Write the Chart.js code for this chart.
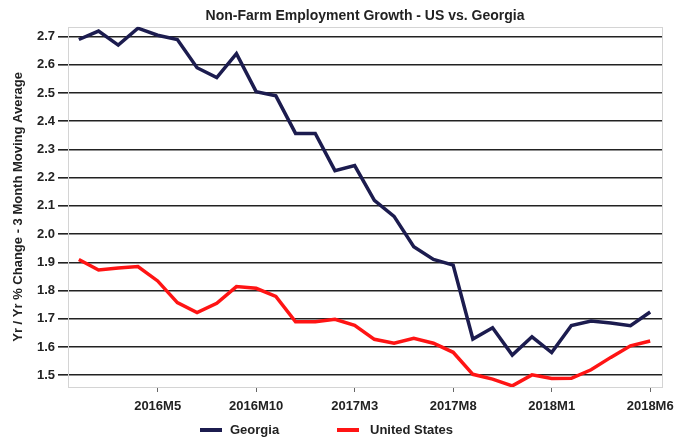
<!DOCTYPE html>
<html>
<head>
<meta charset="utf-8">
<script src="https://cdn.jsdelivr.net/npm/chart.js@4/dist/chart.umd.min.js"></script>
<style>
  html, body { margin: 0; padding: 0; background: #ffffff; }
  #wrap { position: relative; width: 687px; height: 439px; overflow: hidden; background: #fff; }
  #c { position: absolute; left: 0; top: 0; }
  .lg { position: absolute; font: bold 13px 'Liberation Sans', Arial, sans-serif; color: #222; line-height: 16px; top: 422px; white-space: nowrap; }
  .sw { position: absolute; height: 4px; top: 428px; width: 22px; }
</style>
</head>
<body>
<div id="wrap">
  <canvas id="c" width="687" height="439"></canvas>
  <div class="sw" style="left:200px;background:#1c1c4f"></div>
  <div class="lg" style="left:230px">Georgia</div>
  <div class="sw" style="left:337px;background:#ff1414"></div>
  <div class="lg" style="left:370px">United States</div>
</div>
<script>
const categories = ['2016M1','2016M2','2016M3','2016M4','2016M5','2016M6','2016M7','2016M8','2016M9','2016M10','2016M11','2016M12',
  '2017M1','2017M2','2017M3','2017M4','2017M5','2017M6','2017M7','2017M8','2017M9','2017M10','2017M11','2017M12',
  '2018M1','2018M2','2018M3','2018M4','2018M5','2018M6'];
const tickLabels = ['2016M5','2016M10','2017M3','2017M8','2018M1','2018M6'];
const georgia = [2.69, 2.72, 2.67, 2.73, 2.705, 2.69, 2.59, 2.555, 2.64, 2.505, 2.49, 2.357, 2.357, 2.225, 2.243, 2.12,
  2.063, 1.955, 1.91, 1.89, 1.628, 1.668, 1.571, 1.636, 1.58, 1.676, 1.692, 1.685, 1.675, 1.724];
const unitedStates = [1.91, 1.873, 1.88, 1.885, 1.834, 1.757, 1.722, 1.755, 1.814, 1.808, 1.779, 1.689, 1.689, 1.698, 1.677, 1.627,
  1.613, 1.631, 1.613, 1.581, 1.503, 1.486, 1.462, 1.501, 1.488, 1.489, 1.519, 1.563, 1.604, 1.621];

const FONT = "'Liberation Sans', Arial, sans-serif";
Chart.defaults.font.family = FONT;
Chart.defaults.color = '#222';

const frame = {
  id: 'frame',
  beforeDatasetsDraw(chart) {
    const a = chart.chartArea, ctx = chart.ctx;
    ctx.save();
    ctx.strokeStyle = '#d4d4d4';
    ctx.lineWidth = 1;
    ctx.strokeRect(Math.round(a.left) + 0.5, Math.round(a.top) + 0.5, Math.round(a.right - a.left), Math.round(a.bottom - a.top));
    ctx.restore();
  }
};

new Chart(document.getElementById('c'), {
  type: 'line',
  data: {
    datasets: [
      { label: 'Georgia', data: georgia.map((v, i) => ({ x: i, y: v })), borderColor: '#1c1c4f', borderWidth: 3.5, pointRadius: 0, tension: 0 },
      { label: 'United States', data: unitedStates.map((v, i) => ({ x: i, y: v })), borderColor: '#ff1414', borderWidth: 3.5, pointRadius: 0, tension: 0 }
    ]
  },
  options: {
    responsive: false,
    animation: false,
    devicePixelRatio: 1,
    layout: { padding: { top: 0, left: 0, right: 25, bottom: 25 } },
    plugins: {
      legend: { display: false },
      tooltip: { enabled: false },
      title: {
        display: true,
        text: 'Non-Farm Employment Growth - US vs. Georgia',
        fullSize: false,
        color: '#222',
        font: { size: 14, weight: 'bold' },
        padding: { top: 8, bottom: 2 }
      }
    },
    scales: {
      x: {
        type: 'linear',
        min: -0.55,
        max: 29.6,
        afterFit(s) { s.height = 27; },
        afterBuildTicks(s) { s.ticks = tickLabels.map(l => ({ value: categories.indexOf(l) })); },
        grid: { drawOnChartArea: false, drawTicks: true, tickLength: 5, tickColor: '#666', lineWidth: 1 },
        border: { display: false },
        ticks: {
          autoSkip: false, maxRotation: 0, padding: 7,
          color: '#222', font: { size: 13, weight: 'bold' },
          callback: v => categories[v]
        }
      },
      y: {
        min: 1.458,
        max: 2.735,
        afterFit(s) { s.width = 68; },
        grid: { color: '#222', lineWidth: 1.6, tickLength: 10 },
        border: { display: false },
        ticks: {
          stepSize: 0.1, includeBounds: false, padding: 3,
          color: '#222', font: { size: 13, weight: 'bold' },
          callback: v => Number(v).toFixed(1)
        },
        title: {
          display: true,
          text: 'Yr / Yr % Change - 3 Month Moving Average',
          color: '#222',
          font: { size: 13, weight: 'bold' },
          padding: { top: 11, bottom: 0 }
        }
      }
    }
  },
  plugins: [frame]
});
</script>
</body>
</html>
